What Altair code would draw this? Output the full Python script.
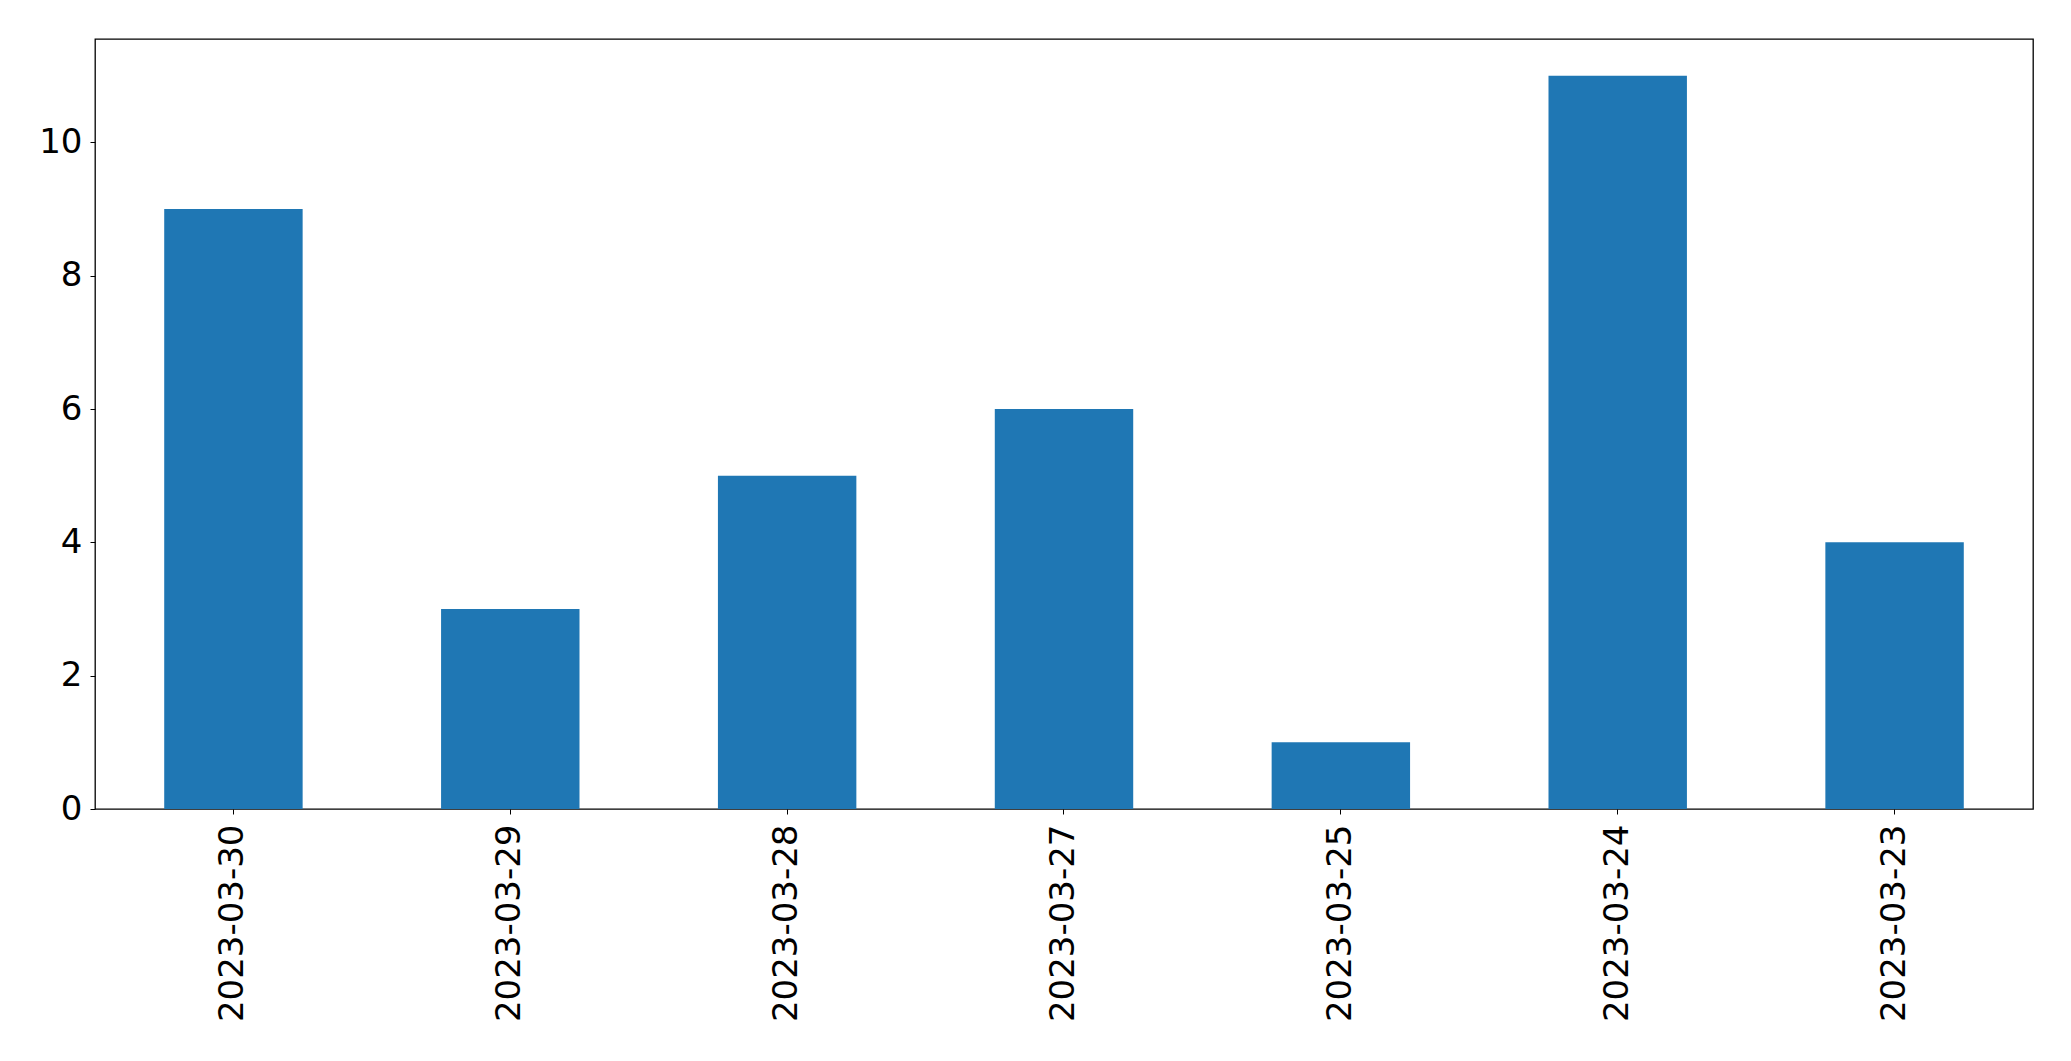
import altair as alt
import pandas as pd

dates = ["2023-03-30", "2023-03-29", "2023-03-28", "2023-03-27", "2023-03-25", "2023-03-24", "2023-03-23"]
counts = [9, 3, 5, 6, 1, 11, 4]
y_ticks = [0, 2, 4, 6, 8, 10]

df = pd.DataFrame({"date": dates, "count": counts})

FONT = "DejaVu Sans"
FS = 34

chart = alt.Chart(df).mark_bar(color="#1f77b4").encode(
    x=alt.X(
        "date:N",
        sort=dates,
        title=None,
        scale=alt.Scale(paddingInner=0.5, paddingOuter=0.25),
        axis=alt.Axis(
            labelAngle=270,
            labelFontSize=FS,
            labelFont=FONT,
            labelColor="black",
            labelLimit=0,
            tickSize=5,
            tickColor="black",
            labelPadding=10,
            domain=False,
            grid=False,
        ),
    ),
    y=alt.Y(
        "count:Q",
        title=None,
        scale=alt.Scale(domain=[0, 11.55], nice=False, zero=True),
        axis=alt.Axis(
            values=y_ticks,
            labelFontSize=FS,
            labelFont=FONT,
            labelColor="black",
            tickSize=5,
            tickColor="black",
            labelPadding=8,
            domain=False,
            grid=False,
        ),
    ),
).properties(
    width=1938,
    height=770,
    padding={"left": 30, "top": 31, "right": 5, "bottom": 5},
).configure(
    background="white",
).configure_view(
    stroke="black",
    strokeWidth=1.3,
)

chart.save("out.html", embed_options={"renderer": "svg", "actions": False})
